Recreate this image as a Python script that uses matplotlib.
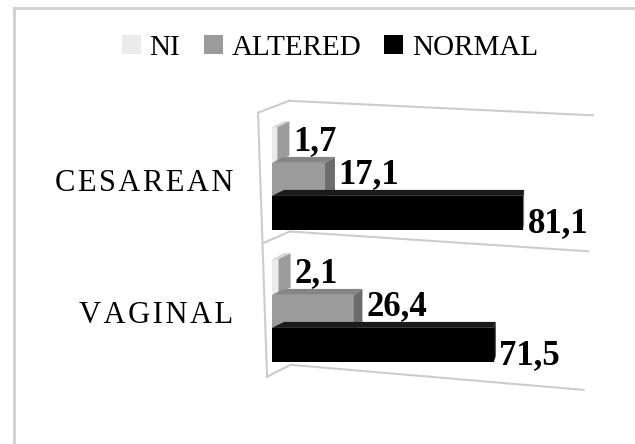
import matplotlib.pyplot as plt
from matplotlib.patches import Polygon, Patch
from matplotlib.lines import Line2D

# data
categories = ['VAGINAL', 'CESAREAN']
series = ['NI', 'ALTERED', 'NORMAL']
vaginal = [2.1, 26.4, 71.5]
cesarean = [1.7, 17.1, 81.1]
values = [vaginal, cesarean]

# colours per series: front, top, side
front_col = ['#ebebeb', '#9b9b9b', '#000000']
top_col = ['#d4d4d4', '#858585', '#1a1a1a']
side_col = ['#9c9c9c', '#6c6c6c', '#111111']

plt.rcParams['font.family'] = ['Liberation Serif', 'DejaVu Serif']

fig = plt.figure(figsize=(6.35, 4.44), dpi=100)
ax = fig.add_axes([240/635, 24/444, 370/635, 325/444])
ax.set_xlim(-10.32, 109.0)
ax.set_ylim(-0.818, 1.644)
for s in ax.spines.values():
    s.set_visible(False)
ax.set_xticks([])

# fake 3d depth (side face shrinks towards the right, like the perspective view)
dy = 0.045
h = 0.26
offsets = [0.27, 0.0, -0.25]
label_shift = [0.0, 0.02, -0.1]


def side_depth(v):
    return max(4.0 * (1 - v / 85.0), 0.2)


# side wall and floor lines (category boundaries)
wall_col = '#cccccc'
bounds = [1.51, 0.52, -0.49]
for k, b in enumerate(bounds):
    fx = -4.5 + (1.51 - b) / 2.0 * 2.9
    bx, by = fx + 10.0 - k * 1.2, b + 0.09
    ax.plot([fx, bx], [b, by], color=wall_col, lw=1.5, zorder=0)
    ax.plot([bx, 103.5 - k * 1.5], [by, by - 0.11 - k * 0.04], color=wall_col, lw=1.5, zorder=0)
ax.plot([-4.5, -1.6], [1.51, -0.49], color=wall_col, lw=1.5, zorder=0)

z = 2
for i in [1, 0]:
    for j in range(3):
        v = values[i][j]
        dx = side_depth(v)
        yc = i + offsets[j]
        yb, yt = yc - h / 2, yc + h / 2
        ax.barh(yc, v, height=h, color=front_col[j], zorder=z)
        ax.add_patch(Polygon([(0, yt), (v, yt), (v + dx, yt + dy), (3.9, yt + dy)],
                             closed=True, facecolor=top_col[j], edgecolor='none', zorder=z))
        ax.add_patch(Polygon([(v, yb), (v + dx, yb + dy), (v + dx, yt + dy), (v, yt)],
                             closed=True, facecolor=side_col[j], edgecolor='none', zorder=z))
        ax.text(v + dx + 1.2, yc + dy / 2 + label_shift[j], f'{v:.1f}'.replace('.', ','),
                fontsize=25, fontweight='bold', va='center', ha='left', zorder=10)
        z += 1

ax.set_yticks([0, 1])
ax.set_yticklabels(['\u200a'.join(c) for c in categories], fontsize=22)
ax.tick_params(axis='y', length=0, pad=5)

handles = [Patch(facecolor=front_col[j], edgecolor='none') for j in range(3)]
fig.legend(handles, series, loc='center', bbox_to_anchor=(330/635, 1 - 48/444), ncol=3,
           frameon=False, fontsize=21, handlelength=0.65, handleheight=0.65,
           handletextpad=0.3, columnspacing=0.8)

# outer frame (only top and left are visible)
fig.add_artist(Line2D([14/635, 14/635], [0, 1 - 8/444], color='#d0d0d0', lw=2))
fig.add_artist(Line2D([14/635, 1], [1 - 8/444, 1 - 8/444], color='#d0d0d0', lw=2))

fig.savefig('out.png', dpi=100)
